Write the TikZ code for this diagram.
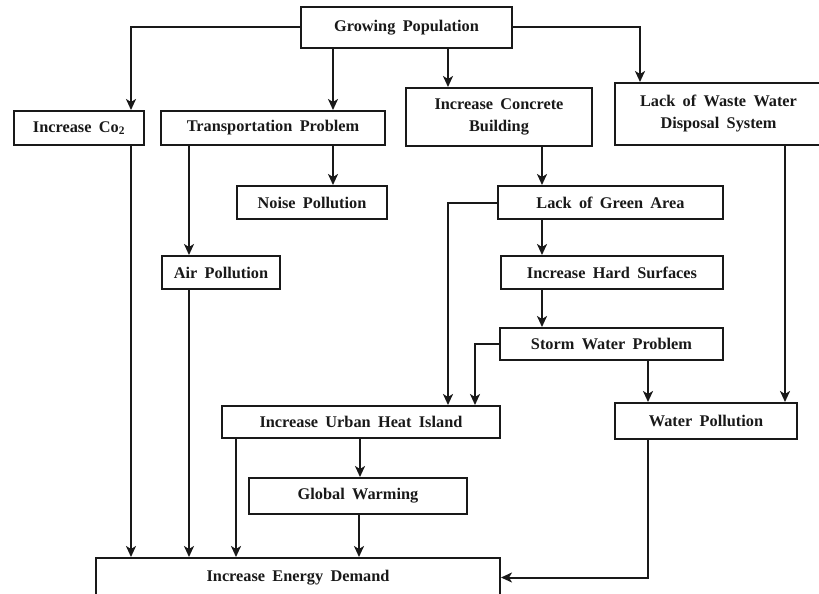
\documentclass[tikz,border=0pt]{standalone}
\usepackage{fontspec}
\setmainfont{Liberation Serif}
\usetikzlibrary{arrows.meta}
\newcommand\bxfont{\fontsize{16.3}{22}\selectfont\bfseries\spaceskip=0.45em plus 0.1em\relax}
\begin{document}
\begin{tikzpicture}[x=1pt,y=-1pt,
  box/.style={draw=black!90, line width=2pt, inner sep=0pt, font=\bxfont, align=center, text=black!90},
  arr/.style={-{Stealth[length=11pt,width=10pt,inset=3pt]}, line width=2pt, draw=black!90}]
\useasboundingbox (0,0) rectangle (819,594);
\clip (0,0) rectangle (819,594);
\node[box, minimum width=211pt, minimum height=41pt] (gp) at (406.5,27.5) {Growing Population};
\node[box, minimum width=130pt, minimum height=34pt] (co2) at (79,128) {Increase Co\textsubscript{2}};
\node[box, minimum width=224pt, minimum height=34pt] (tp) at (273,128) {Transportation Problem};
\node[box, minimum width=150pt, minimum height=33pt] (np) at (312,202.5) {Noise Pollution};
\node[box, minimum width=118pt, minimum height=33pt] (ap) at (221,272.5) {Air Pollution};
\node[box, minimum width=186pt, minimum height=58pt] (cb) at (499,117) {Increase Concrete\\Building};
\node[box, minimum width=207pt, minimum height=62pt] (ww) at (718.5,114) {Lack of Waste Water\\Disposal System};
\node[box, minimum width=225pt, minimum height=33pt] (ga) at (610.5,202.5) {Lack of Green Area};
\node[box, minimum width=222pt, minimum height=33pt] (hs) at (612,272.5) {Increase Hard Surfaces};
\node[box, minimum width=223pt, minimum height=32pt] (sw) at (611.5,344) {Storm Water Problem};
\node[box, minimum width=278pt, minimum height=32pt] (uh) at (361,422) {Increase Urban Heat Island};
\node[box, minimum width=182pt, minimum height=36pt] (wp) at (706,421) {Water Pollution};
\node[box, minimum width=218pt, minimum height=36pt] (gw) at (358,496) {Global Warming};
\node[box, minimum width=404pt, minimum height=39pt] (ed) at (298,577.5) {Increase Energy Demand};

\draw[arr] (gp.west) -| (co2.north -| 131,0);
\draw[arr] (gp.south -| 333,0) -- (tp.north -| 333,0);
\draw[arr] (gp.south -| 448,0) -- (cb.north -| 448,0);
\draw[arr] (gp.east) -| (ww.north -| 640,0);
\draw[arr] (tp.south -| 333,0) -- (np.north -| 333,0);
\draw[arr] (tp.south -| 189,0) -- (ap.north -| 189,0);
\draw[arr] (cb.south -| 542,0) -- (ga.north -| 542,0);
\draw[arr] (ga.south -| 542,0) -- (hs.north -| 542,0);
\draw[arr] (hs.south -| 542,0) -- (sw.north -| 542,0);
\draw[arr] (ga.west) -| (uh.north -| 448,0);
\draw[arr] (sw.west) -| (uh.north -| 475,0);
\draw[arr] (sw.south -| 648,0) -- (wp.north -| 648,0);
\draw[arr] (ww.south -| 785,0) -- (wp.north -| 785,0);
\draw[arr] (co2.south -| 131,0) -- (ed.north -| 131,0);
\draw[arr] (ap.south -| 189,0) -- (ed.north -| 189,0);
\draw[arr] (uh.south -| 236,0) -- (ed.north -| 236,0);
\draw[arr] (uh.south -| 360,0) -- (gw.north -| 360,0);
\draw[arr] (gw.south -| 359,0) -- (ed.north -| 359,0);
\draw[arr] (wp.south -| 648,0) |- (ed.east);
\end{tikzpicture}
\end{document}
